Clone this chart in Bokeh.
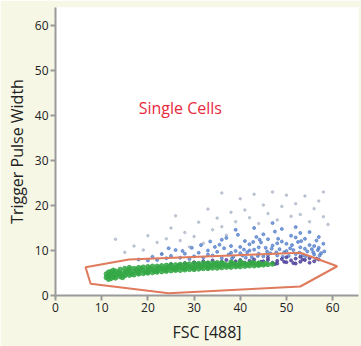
from bokeh.plotting import figure
from bokeh.models import Label, ColumnDataSource
from bokeh.embed import file_html
from bokeh.resources import INLINE

x_ticks = [0, 10, 20, 30, 40, 50, 60]
y_ticks = [0, 10, 20, 30, 40, 50, 60]

gate_x = [6.5, 7.6, 24.5, 53.0, 61.0, 53.0, 15.9]
gate_y = [6.3, 2.6, 0.5, 2.0, 6.5, 9.5, 8.0]

green_points = [
    (11, 4.0), (11, 4.8), (11.5, 3.6), (11.5, 4.4), (11.5, 5.2), (12, 3.8), (12, 4.5), (12, 5.3),
    (12.5, 4.1), (12.5, 4.9), (12.5, 5.6), (13, 3.9), (13, 4.6), (13, 5.4), (14, 4.2), (14, 5.0),
    (14, 5.8), (14, 4.6), (15, 4.4), (15, 5.2), (15, 6.0), (15, 4.8), (16, 4.5), (16, 5.1),
    (16, 5.8), (16, 6.2), (17, 4.6), (17, 5.3), (17, 6.0), (18, 4.8), (18, 5.5), (18, 6.2),
    (18, 5.1), (19, 4.9), (19, 5.6), (19, 6.3), (20, 5.0), (20, 5.7), (20, 6.4), (20, 5.3),
    (21, 5.1), (21, 5.8), (21, 6.5), (22, 5.2), (22, 5.9), (22, 6.5), (22, 5.5), (23, 5.3),
    (23, 6.0), (23, 6.6), (24, 5.4), (24, 6.1), (24, 6.7), (24, 5.7), (25, 5.5), (25, 6.1),
    (25, 6.8), (26, 5.6), (26, 6.2), (26, 6.8), (26, 5.9), (27, 5.6), (27, 6.3), (27, 6.9),
    (28, 5.7), (28, 6.3), (28, 7.0), (28, 6.0), (29, 5.8), (29, 6.4), (29, 7.0), (30, 5.8),
    (30, 6.4), (30, 7.1), (30, 6.1), (31, 5.9), (31, 6.5), (31, 7.1), (32, 6.0), (32, 6.6),
    (32, 7.2), (33, 6.0), (33, 6.6), (33, 7.2), (33, 6.3), (34, 6.1), (34, 6.7), (34, 7.2),
    (35, 6.1), (35, 6.7), (35, 7.3), (36, 6.2), (36, 6.8), (36, 7.3), (37, 6.3), (37, 6.8),
    (38, 6.3), (38, 6.9), (38, 7.4), (39, 6.4), (39, 6.9), (40, 6.4), (40, 7.0), (40, 7.5),
    (41, 6.5), (41, 7.0), (42, 6.6), (42, 7.1), (43, 6.6), (43, 7.2), (44, 6.7), (44, 7.2),
    (45, 6.8), (46, 6.9), (47, 7.0),
    (11.3, 4.3), (12.8, 4.3), (13.6, 5.1), (14.5, 4.0), (15.5, 5.5), (16.5, 4.8), (17.5, 5.7),
    (18.5, 6.0), (19.5, 5.2), (20.5, 6.0), (21.5, 5.4), (22.5, 6.2), (23.5, 5.7), (24.5, 6.4),
    (25.5, 5.9), (26.5, 6.5), (27.5, 6.1), (28.5, 6.7), (29.5, 6.2), (30.5, 6.8), (31.5, 6.3),
    (32.5, 6.9), (33.5, 6.5), (34.5, 7.0), (35.5, 6.5), (36.5, 7.0), (37.5, 6.6), (38.5, 7.1),
    (39.5, 6.7), (40.5, 7.2), (41.5, 6.8), (42.5, 7.3), (43.5, 6.9), (44.5, 7.0), (45.5, 7.1),
]

purple_points = [
    (28, 7.2), (30, 7.4), (31, 7.0), (32, 7.6), (33, 7.3), (34, 7.8), (35, 7.1), (36, 7.5),
    (37, 7.9), (38, 7.2), (39, 7.6), (40, 7.9), (41, 7.3), (42, 7.7), (43, 8.0), (44, 7.2),
    (45, 7.6), (46, 7.9), (47, 7.3), (48, 7.7), (49, 8.1), (50, 7.4), (51, 7.8), (52, 8.2),
    (53, 7.5), (54, 7.9), (55, 8.3), (56, 7.6), (57, 8.0), (36, 6.9), (40, 7.0), (44, 6.9),
    (48, 7.1), (52, 7.1), (55, 7.3), (25, 7.0), (27, 6.9), (46, 8.4), (50, 8.5), (53, 8.6),
    (44.5, 7.5), (47.5, 7.0), (49.5, 7.5), (51.5, 7.2), (53.5, 8.0), (56.5, 8.2), (42.5, 7.4),
]

blue_points = [
    (18, 8.0), (20, 7.8), (21, 8.6), (22, 7.9), (23, 9.2), (24, 8.3), (25, 8.8), (26, 10.1),
    (27, 8.4), (28, 9.3), (29, 8.1), (29.5, 10.6), (30, 8.7), (31, 9.5), (31.5, 11.2), (32, 8.4),
    (33, 10.0), (33.5, 12.0), (34, 8.9), (35, 9.7), (35.5, 11.3), (36, 8.3), (36.5, 10.5), (37, 12.8),
    (37.5, 9.1), (38, 11.0), (38.5, 8.6), (39, 9.9), (39.5, 13.5), (40, 10.8), (40.5, 8.9), (41, 12.1),
    (41.5, 9.6), (42, 11.4), (42.5, 8.5), (43, 10.2), (43.5, 13.0), (44, 9.3), (44.5, 11.8), (45, 8.7),
    (45.5, 10.6), (46, 12.5), (46.5, 9.4), (47, 11.1), (47.5, 14.2), (48, 8.9), (48.5, 10.3), (49, 12.0),
    (49.5, 9.6), (50, 11.5), (50.5, 8.8), (51, 13.3), (51.5, 10.1), (52, 9.2), (52.5, 11.9), (53, 10.7),
    (53.5, 8.9), (54, 12.6), (54.5, 9.8), (55, 11.2), (55.5, 10.3), (56, 9.1), (56.5, 12.2), (57, 10.6),
    (57.5, 9.4), (58, 11.5), (34.5, 10.8), (36, 12.4), (38, 9.5), (40, 9.4), (42, 10.0), (44, 10.7),
    (46, 9.0), (48, 11.6), (50, 9.9), (52, 12.9), (54, 10.4), (56, 11.0), (39, 14.6), (43, 15.0),
    (47, 16.1), (52, 15.2), (55, 14.1), (33, 9.1), (27.5, 9.9), (24.5, 10.5), (45, 13.6), (49, 14.8),
    (53, 13.9), (57, 13.0),
    (38.2, 8.2), (41.2, 8.4), (43.8, 8.8), (45.8, 9.8), (47.8, 9.6), (49.2, 8.6), (50.8, 10.5),
    (52.8, 9.5), (54.2, 8.7), (55.8, 9.6), (57.2, 8.9), (51.2, 11.2), (53.2, 12.1), (48.2, 12.6),
    (44.2, 12.4), (46.8, 10.4), (42.8, 11.9), (56.8, 10.1), (58.2, 9.8), (40.8, 10.2),
]

gray_points = [
    (13, 12.5), (15, 9.6), (17, 11.0), (19, 10.1), (20, 13.3), (22, 11.8), (24, 12.6), (25, 15.0),
    (27, 12.2), (28, 14.0), (30, 13.1), (31, 16.3), (32, 11.6), (34, 14.6), (35, 17.2), (36, 15.3),
    (38, 18.5), (39, 16.4), (40, 21.5), (41, 19.0), (42, 17.3), (43, 22.5), (44, 16.0), (45, 20.1),
    (46, 18.2), (47, 23.0), (48, 16.8), (49, 19.8), (50, 22.3), (51, 17.6), (52, 20.4), (53, 18.0),
    (54, 22.1), (55, 16.4), (56, 19.3), (57, 21.0), (58, 17.5), (59, 15.8), (37, 13.4), (29, 10.8),
    (23, 9.3), (26, 17.7), (33, 19.2), (36, 22.8), (58, 23.0),
]

FONT = "Open Sans"
AXIS_COLOR = "#9a9a9a"

p = figure(width=361, height=346, x_range=(0, 65.6), y_range=(0, 64),
           output_backend="svg", toolbar_location=None,
           min_border_left=55, min_border_right=3, min_border_top=7, min_border_bottom=51,
           background_fill_color="white", border_fill_color="#f7f7e6",
           outline_line_color=None)

p.xgrid.visible = False
p.ygrid.visible = False

def src(points):
    return ColumnDataSource(dict(x=[a for a, b in points], y=[b for a, b in points]))

p.scatter("x", "y", source=src(gray_points), size=2.5, color="#a9b3c6", alpha=0.7)
p.scatter("x", "y", source=src(blue_points), size=3, color="#4a78c8", alpha=0.7)
p.scatter("x", "y", source=src(purple_points), size=3, color="#4a3c98", alpha=0.8)
p.scatter("x", "y", source=src(green_points), size=4.5, color="#35a845", alpha=0.85)

p.patch(gate_x, gate_y, fill_alpha=0, line_color="#e07a5c", line_width=2)

for ax in (p.xaxis[0], p.yaxis[0]):
    ax.axis_line_color = AXIS_COLOR
    ax.axis_line_width = 2
    ax.major_tick_line_color = AXIS_COLOR
    ax.major_tick_line_width = 2
    ax.major_tick_out = 5
    ax.major_tick_in = 0
    ax.minor_tick_line_color = None
    ax.major_label_text_font = FONT
    ax.major_label_text_font_size = "12px"
    ax.major_label_text_color = "#222222"
    ax.major_label_standoff = 2
    ax.axis_label_text_font = FONT
    ax.axis_label_text_font_size = "16px"
    ax.axis_label_text_font_style = "normal"
    ax.axis_label_text_color = "#222222"

p.xaxis.ticker = x_ticks
p.yaxis.ticker = y_ticks
p.xaxis.axis_label = "FSC [488]"
p.yaxis.axis_label = "Trigger Pulse Width"
p.xaxis.axis_label_standoff = 6
p.yaxis.axis_label_standoff = 4

p.add_layout(Label(x=18.0, y=41.6, text="Single Cells", text_color="#e8283c",
                   text_font=FONT, text_font_size="16px", text_baseline="alphabetic"))
p.add_layout(Label(x=61.9, y=-4.3, text="x1000", text_color="#222222",
                   text_font=FONT, text_font_size="10px", text_align="center",
                   text_baseline="top"))

open("out.html", "w").write(file_html(p, INLINE))
